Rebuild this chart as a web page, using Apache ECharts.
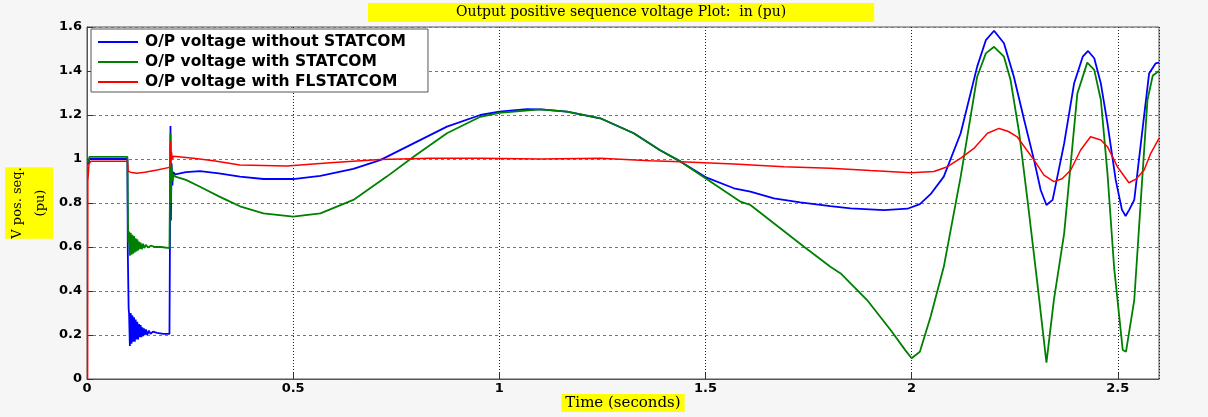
<!DOCTYPE html>
<html>
<head>
<meta charset="utf-8">
<script src="https://cdn.jsdelivr.net/npm/echarts@6/dist/echarts.min.js"></script>
<style>
  html, body { margin: 0; padding: 0; background: #f6f6f6; }
  #chart { width: 1208px; height: 417px; }
</style>
</head>
<body>
<div id="chart"></div>
<script>
const titleText = 'Output positive sequence voltage Plot:  in (pu)';
const xAxisName = 'Time (seconds)';
const yAxisName = 'V pos. seq.\n(pu)';
const seriesNames = ['O/P voltage without STATCOM', 'O/P voltage with STATCOM', 'O/P voltage with FLSTATCOM'];

// [time (s), V pos. seq. (pu)]
const withoutStatcom = [
  [0.003, 0.975], [0.006, 1.0], [0.098, 1.0], [0.099, 0.57], [0.101, 0.32],
  [0.102, 0.30], [0.104, 0.15], [0.106, 0.30], [0.108, 0.16], [0.110, 0.29], [0.112, 0.17],
  [0.114, 0.28], [0.116, 0.17], [0.118, 0.27], [0.120, 0.18], [0.122, 0.26], [0.124, 0.18],
  [0.126, 0.25], [0.128, 0.19], [0.130, 0.245], [0.132, 0.19], [0.134, 0.235], [0.136, 0.195],
  [0.138, 0.23], [0.140, 0.20], [0.143, 0.225], [0.146, 0.20], [0.150, 0.22], [0.154, 0.205],
  [0.160, 0.215], [0.170, 0.21], [0.185, 0.205], [0.200, 0.205],
  [0.2015, 0.72], [0.2025, 1.15], [0.2035, 0.72], [0.205, 0.98], [0.207, 0.88], [0.209, 0.94],
  [0.214, 0.93], [0.24, 0.94], [0.274, 0.945], [0.32, 0.935], [0.371, 0.92], [0.428, 0.909],
  [0.5, 0.909], [0.566, 0.923], [0.646, 0.955], [0.711, 0.995], [0.792, 1.071], [0.873, 1.147],
  [0.954, 1.2], [1.0, 1.215], [1.067, 1.227], [1.1, 1.226], [1.164, 1.215], [1.245, 1.185],
  [1.326, 1.117], [1.39, 1.04], [1.44, 0.988], [1.5, 0.918], [1.569, 0.867], [1.609, 0.852],
  [1.666, 0.821], [1.73, 0.803], [1.803, 0.786], [1.852, 0.776], [1.933, 0.768], [1.99, 0.774],
  [2.02, 0.795], [2.046, 0.84], [2.078, 0.92], [2.119, 1.117], [2.159, 1.42], [2.18, 1.54],
  [2.2, 1.583], [2.224, 1.526], [2.248, 1.374], [2.273, 1.177], [2.297, 0.995], [2.313, 0.859],
  [2.327, 0.791], [2.342, 0.814], [2.37, 1.071], [2.394, 1.343], [2.415, 1.465], [2.428, 1.491],
  [2.443, 1.458], [2.459, 1.343], [2.475, 1.162], [2.495, 0.905], [2.51, 0.77], [2.519, 0.741],
  [2.528, 0.77], [2.54, 0.814], [2.556, 1.071], [2.576, 1.389], [2.592, 1.435], [2.6, 1.438]
];

const withStatcom = [
  [0.003, 0.985], [0.006, 1.01], [0.098, 1.01], [0.099, 0.77], [0.100, 0.62],
  [0.102, 0.67], [0.104, 0.56], [0.106, 0.665], [0.108, 0.565], [0.110, 0.655], [0.112, 0.57],
  [0.114, 0.65], [0.116, 0.575], [0.118, 0.64], [0.120, 0.58], [0.122, 0.635], [0.124, 0.585],
  [0.126, 0.625], [0.128, 0.59], [0.130, 0.62], [0.133, 0.59], [0.136, 0.615], [0.139, 0.595],
  [0.143, 0.61], [0.148, 0.598], [0.155, 0.606], [0.165, 0.6], [0.18, 0.6], [0.2, 0.595],
  [0.2015, 0.6], [0.2025, 1.117], [0.2035, 0.8], [0.205, 0.97], [0.207, 0.9], [0.21, 0.93],
  [0.214, 0.92], [0.24, 0.905], [0.274, 0.874], [0.32, 0.83], [0.347, 0.806], [0.371, 0.785],
  [0.428, 0.753], [0.5, 0.738], [0.566, 0.753], [0.646, 0.814], [0.727, 0.92], [0.792, 1.01],
  [0.873, 1.117], [0.954, 1.192], [1.0, 1.21], [1.1, 1.226], [1.164, 1.215], [1.245, 1.185],
  [1.326, 1.117], [1.39, 1.04], [1.44, 0.988], [1.5, 0.912], [1.585, 0.806], [1.609, 0.791],
  [1.739, 0.601], [1.803, 0.51], [1.828, 0.48], [1.892, 0.359], [1.949, 0.223], [1.985, 0.13],
  [2.0, 0.094], [2.02, 0.124], [2.046, 0.283], [2.078, 0.51], [2.119, 0.92], [2.139, 1.147],
  [2.159, 1.374], [2.18, 1.48], [2.2, 1.51], [2.224, 1.465], [2.24, 1.359], [2.261, 1.117],
  [2.281, 0.814], [2.305, 0.435], [2.327, 0.074], [2.345, 0.359], [2.37, 0.662], [2.402, 1.298],
  [2.426, 1.438], [2.443, 1.405], [2.459, 1.268], [2.475, 0.935], [2.491, 0.51], [2.512, 0.132],
  [2.52, 0.124], [2.54, 0.359], [2.556, 0.814], [2.572, 1.268], [2.585, 1.38], [2.6, 1.40]
];

const withFlstatcom = [
  [0.0015, 0.0], [0.002, 0.9], [0.005, 0.98], [0.01, 0.99], [0.098, 0.99], [0.1, 0.945],
  [0.105, 0.94], [0.12, 0.935], [0.14, 0.94], [0.17, 0.95], [0.2, 0.962], [0.2015, 0.98],
  [0.2025, 1.08], [0.2035, 0.99], [0.205, 1.03], [0.207, 1.0], [0.21, 1.012], [0.214, 1.008],
  [0.258, 1.003], [0.307, 0.992], [0.371, 0.973], [0.485, 0.968], [0.59, 0.983], [0.711, 0.998],
  [0.832, 1.003], [0.954, 1.003], [1.1, 1.0], [1.245, 1.003], [1.366, 0.992], [1.44, 0.988],
  [1.569, 0.977], [1.69, 0.965], [1.803, 0.958], [1.9, 0.948], [1.998, 0.938], [2.054, 0.943],
  [2.087, 0.965], [2.12, 1.005], [2.151, 1.048], [2.184, 1.117], [2.212, 1.139], [2.235, 1.125],
  [2.256, 1.101], [2.297, 0.995], [2.321, 0.927], [2.345, 0.897], [2.365, 0.91], [2.386, 0.95],
  [2.41, 1.041], [2.434, 1.101], [2.459, 1.086], [2.475, 1.056], [2.499, 0.965], [2.527, 0.892],
  [2.545, 0.91], [2.564, 0.95], [2.58, 1.026], [2.6, 1.094]
];

const chart = echarts.init(document.getElementById('chart'), null, { renderer: 'canvas' });
const tickFont = { fontFamily: 'DejaVu Sans', fontWeight: 'bold', fontSize: 13, color: '#000' };

chart.setOption({
  animation: false,
  backgroundColor: '#f6f6f6',
  title: {
    text: titleText,
    left: 368, top: 3,
    padding: [2, 88],
    backgroundColor: '#ffff00',
    textStyle: { fontFamily: 'DejaVu Serif', fontSize: 14, fontWeight: 'normal', color: '#000', lineHeight: 15 }
  },
  legend: {
    data: seriesNames,
    orient: 'vertical',
    left: 91, top: 29,
    padding: [5, 22, 2, 7],
    icon: 'rect',
    itemWidth: 40, itemHeight: 2, itemGap: 4,
    backgroundColor: '#fff',
    borderColor: '#555', borderWidth: 1,
    selectedMode: false,
    textStyle: { fontFamily: 'DejaVu Sans', fontWeight: 'bold', fontSize: 15.5, color: '#000', lineHeight: 15, padding: [0, 0, 0, 2] }
  },
  grid: {
    left: 87, right: 49, top: 27, bottom: 38,
    outerBoundsMode: 'none', containLabel: false,
    show: true, backgroundColor: '#fff', borderColor: '#555', borderWidth: 1
  },
  xAxis: {
    type: 'value', min: 0, max: 2.6, interval: 0.5,
    name: xAxisName, nameLocation: 'middle', nameGap: 15, nameMoveOverlap: false,
    nameTextStyle: { fontFamily: 'DejaVu Serif', fontSize: 15, color: '#000', backgroundColor: '#ffff00', padding: [2, 4, 1, 4], lineHeight: 15 },
    axisLine: { show: true, lineStyle: { color: '#555', width: 1 } },
    axisTick: { show: true, inside: true, length: 6, lineStyle: { color: '#333' } },
    axisLabel: Object.assign({ margin: 3, showMaxLabel: false }, tickFont),
    splitLine: { show: true, lineStyle: { color: '#222', type: [1, 2], width: 1 } }
  },
  yAxis: {
    type: 'value', min: 0, max: 1.6, interval: 0.2,
    name: yAxisName, nameLocation: 'middle', nameRotate: 90, nameGap: 34, nameMoveOverlap: false,
    nameTextStyle: { fontFamily: 'DejaVu Serif', fontSize: 13, color: '#000', backgroundColor: '#ffff00', padding: [1, 0, 1, 0], lineHeight: 23, align: 'center' },
    axisLine: { show: true, lineStyle: { color: '#555', width: 1 } },
    axisTick: { show: true, inside: true, length: 6, lineStyle: { color: '#333' } },
    axisLabel: Object.assign({ margin: 5 }, tickFont),
    splitLine: { show: true, lineStyle: { color: '#777', type: [3, 3], width: 1 } }
  },
  series: [
    { name: seriesNames[0], type: 'line', data: withoutStatcom, symbol: 'none',
      lineStyle: { color: '#0000ff', width: 1.8 }, itemStyle: { color: '#0000ff' } },
    { name: seriesNames[1], type: 'line', data: withStatcom, symbol: 'none',
      lineStyle: { color: '#008000', width: 1.8 }, itemStyle: { color: '#008000' } },
    { name: seriesNames[2], type: 'line', data: withFlstatcom, symbol: 'none',
      lineStyle: { color: '#ff0000', width: 1.5 }, itemStyle: { color: '#ff0000' } }
  ]
});
</script>
</body>
</html>
